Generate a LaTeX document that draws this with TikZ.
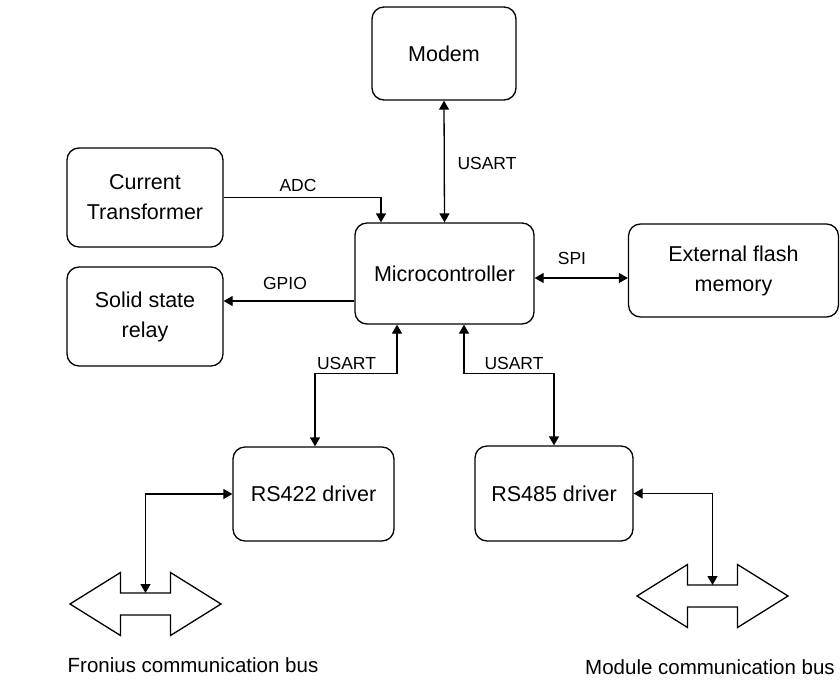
\documentclass[tikz,border=0pt]{standalone}
\usepackage{fontspec}
\setmainfont{Liberation Sans}
\usetikzlibrary{arrows.meta}

\tikzset{
  x=1pt, y=-1pt,
  block/.style={draw, line width=1.3pt, rounded corners=12pt, align=center,
    font=\fontsize{21.5}{30}\selectfont, inner sep=0pt},
  link/.style={line width=1.3pt},
  tip/.style={-{Triangle[length=9pt,width=10pt]}},
  tips/.style={{Triangle[length=9pt,width=10pt]}-{Triangle[length=9pt,width=10pt]}},
  sig/.style={font=\fontsize{17.5}{20}\selectfont, inner sep=0pt},
  buslabel/.style={font=\fontsize{20.5}{24}\selectfont, inner sep=0pt},
  busarrow/.pic={
    \draw[line width=1.3pt, line join=miter]
      (-75.5,0) -- (-25,-31.5) -- (-25,-11) -- (25,-11) -- (25,-31.5)
      -- (75.5,0) -- (25,31.5) -- (25,11) -- (-25,11) -- (-25,31.5) -- cycle;
    \coordinate (-top) at (0,-11);
  }
}

\begin{document}
\begin{tikzpicture}
\useasboundingbox (0,0) rectangle (840,682);

% blocks
\node[block, minimum width=144pt, minimum height=93pt] (modem) at (444,53.5) {Modem};
\node[block, minimum width=156pt, minimum height=99pt] (ct) at (145,197.5) {Current\\Transformer};
\node[block, minimum width=156pt, minimum height=99pt] (ssr) at (145,316.5) {Solid state\\relay};
\node[block, minimum width=179pt, minimum height=101pt] (mcu) at (444.5,273.5) {Microcontroller};
\node[block, minimum width=210pt, minimum height=93pt] (flash) at (733.5,270.5) {External flash\\memory};
\node[block, minimum width=161pt, minimum height=94pt] (r422) at (313.5,494) {RS422 driver};
\node[block, minimum width=158pt, minimum height=95pt] (r485) at (554,493.5) {RS485 driver};

% bus symbols
\pic (busL) at (145.5,604) {busarrow};
\pic (busR) at (712.5,596) {busarrow};

% connections
\draw[link, tips] (modem.south) -- (mcu.north);
\draw[link, tip] (ct.east) -| ([xshift=-63.5pt]mcu.north);
\draw[link, tip] ([yshift=-27.5pt]mcu.west) coordinate (g) -- (g -| ssr.east);
\draw[link, tips] ([yshift=-4.5pt]mcu.east) coordinate (s) -- (s -| flash.west);
\draw[link, tips] ([xshift=-47.5pt]mcu.south) -- ++(0,49) -| ([xshift=1.5pt]r422.north);
\draw[link, tips] ([xshift=19.5pt]mcu.south) -- ++(0,49) -| (r485.north);
\draw[link, tips] (r422.west) -| (busL-top);
\draw[link, tips] (r485.east) -| (busR-top);

% signal labels
\node[sig] at (298,185) {ADC};
\node[sig] at (487,163) {USART};
\node[sig] at (285,283) {GPIO};
\node[sig] at (572,258) {SPI};
\node[sig] at (346.5,363) {USART};
\node[sig] at (514,363) {USART};

% bus labels
\node[buslabel] at (193,665) {Fronius communication bus};
\node[buslabel] at (710,667) {Module communication bus};
\end{tikzpicture}
\end{document}
